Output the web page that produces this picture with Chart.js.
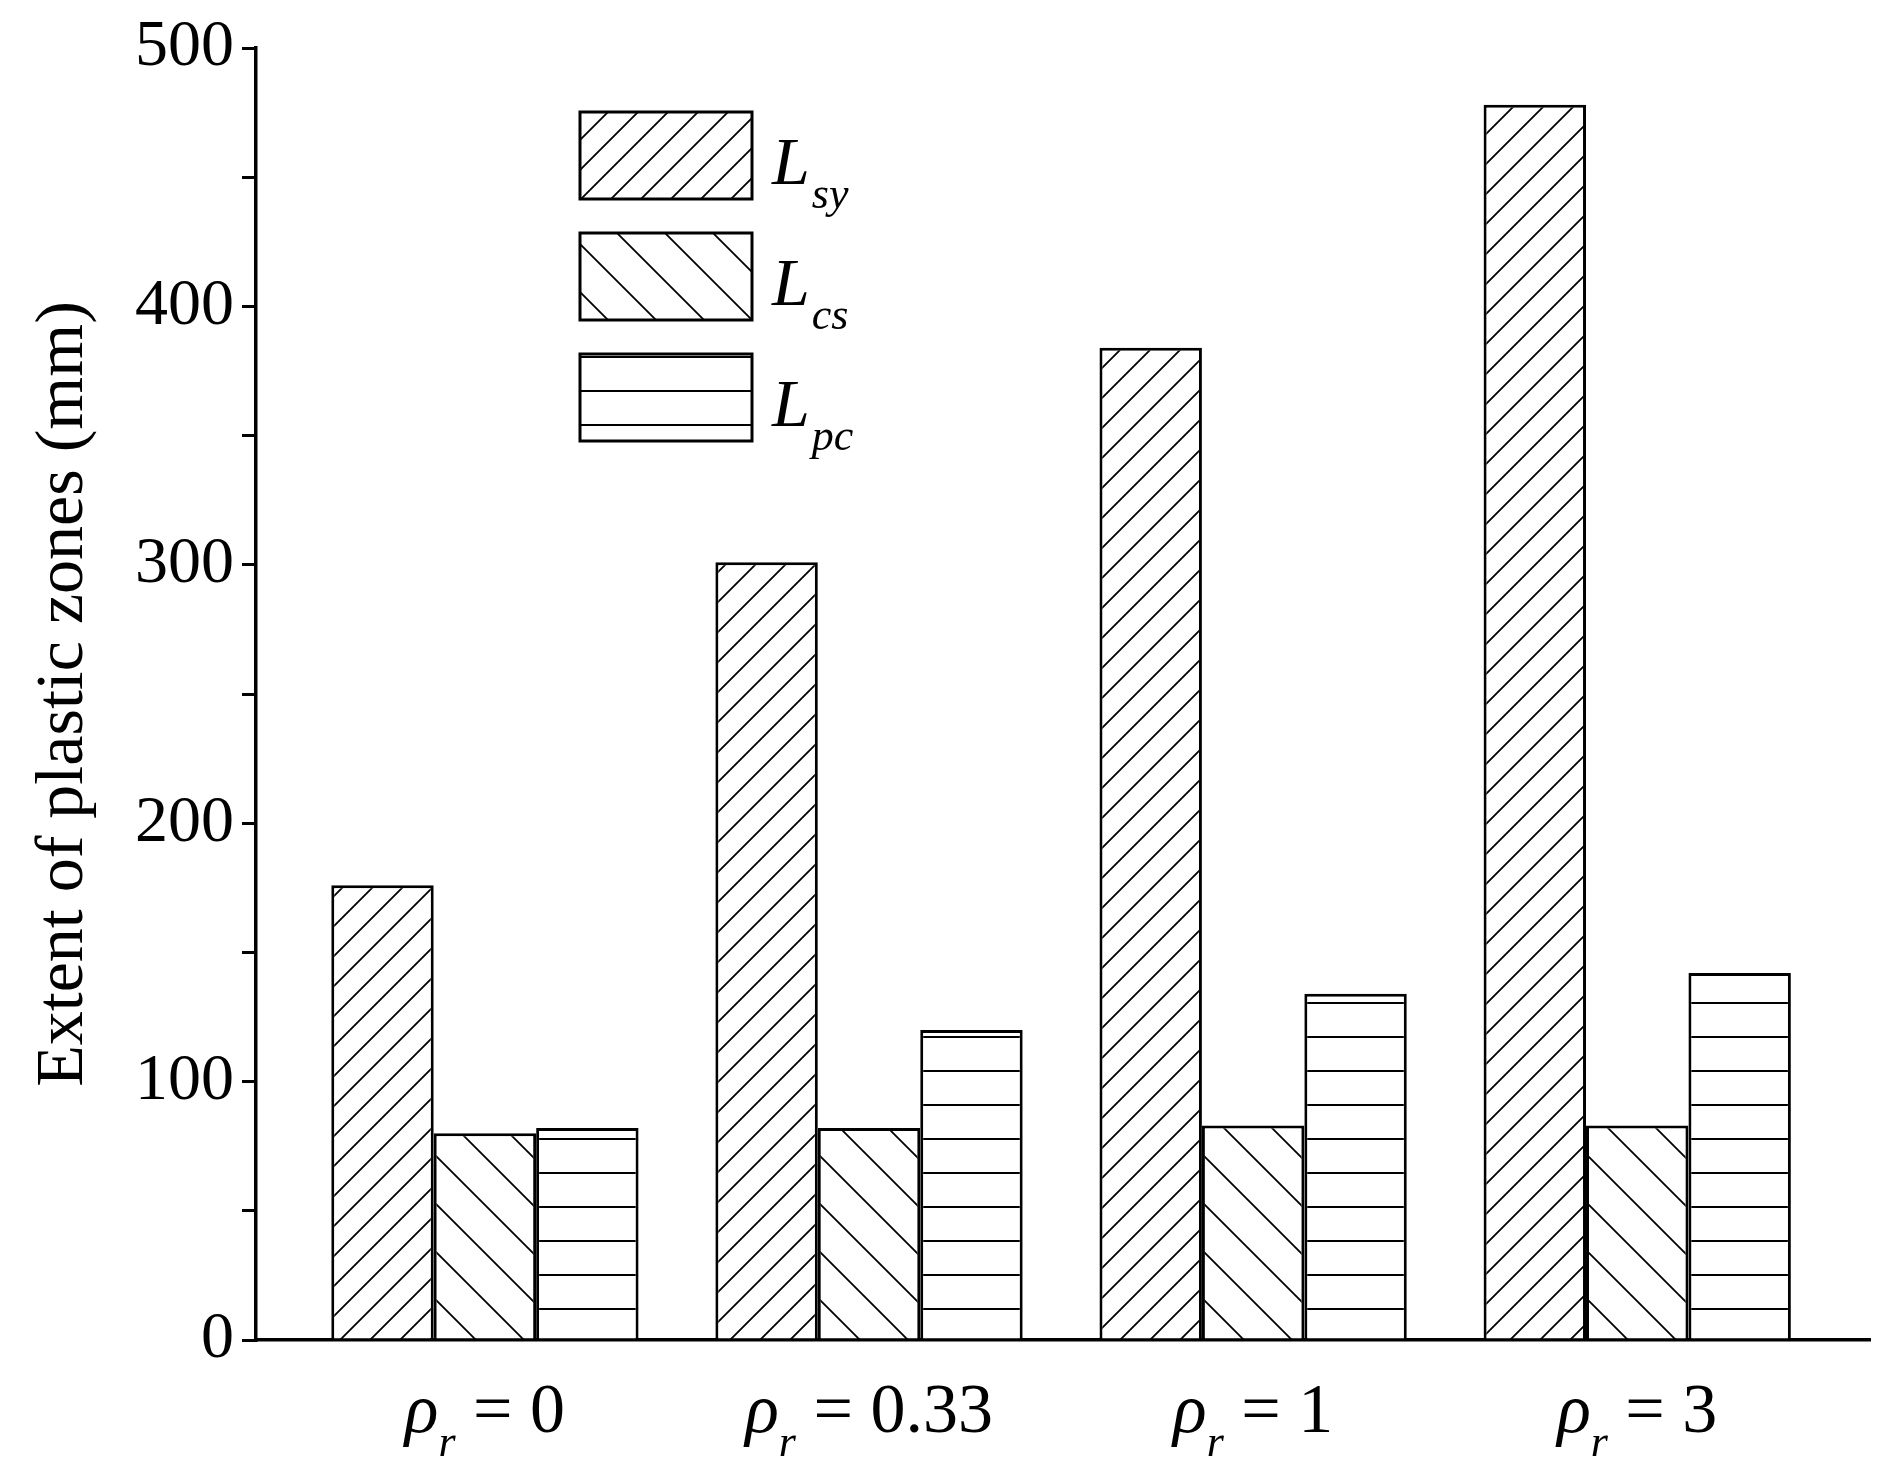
<!DOCTYPE html>
<html><head><meta charset="utf-8">
<script src="https://cdn.jsdelivr.net/npm/chart.js@4/dist/chart.umd.min.js"></script>
<style>body{margin:0;background:#fff}#w{width:1886px;height:1480px}</style>
</head><body><div id="w"><canvas id="c" width="1886" height="1480"></canvas></div>
<script>
const categories = ["0", "0.33", "1", "3"];
const seriesNames = [["L","sy"],["L","cs"],["L","pc"]];
const Lsy = [176, 301, 384, 478];
const Lcs = [80, 82, 83, 83];
const Lpc = [82, 120, 134, 142];
const yTicks = [0, 100, 200, 300, 400, 500];

function hatch(type){
  const s = type==='back'?48:(type==='h'?34:30);
  const c=document.createElement('canvas');c.width=s;c.height=s;
  const g=c.getContext('2d');g.fillStyle='#fff';g.fillRect(0,0,s,s);
  g.strokeStyle='#000';g.lineWidth=1.8;g.beginPath();
  if(type==='fwd'){g.moveTo(-s,2*s);g.lineTo(2*s,-s);g.moveTo(-s,s);g.lineTo(s,-s);g.moveTo(0,2*s);g.lineTo(2*s,0);}
  else if(type==='back'){g.moveTo(-s,-s);g.lineTo(2*s,2*s);g.moveTo(-s,0);g.lineTo(s,2*s);g.moveTo(0,-s);g.lineTo(2*s,s);}
  else {g.moveTo(0,s/2);g.lineTo(s,s/2);}
  g.stroke();
  return g.createPattern(c,'repeat');
}
const cv=document.getElementById('c');const ctx=cv.getContext('2d');
const pats=[hatch('fwd'),hatch('back'),hatch('h')];
const mk=(arr)=>arr.map((v,i)=>({x:i,y:v}));
const SERIF='"Liberation Serif", "DejaVu Serif", serif';

const overlay={id:'ov',afterDraw(ch){
  const g=ch.ctx;const xs=ch.scales.x;
  g.save();g.fillStyle='#000';g.textBaseline='alphabetic';
  categories.forEach((c,i)=>{
    const cx=xs.getPixelForValue(i);
    const p1='ρ',p2='r',p3=' = '+c;
    g.font='italic 70px '+SERIF;const w1=g.measureText(p1).width;
    g.font='italic 44px '+SERIF;const w2=g.measureText(p2).width;
    g.font='70px '+SERIF;const w3=g.measureText(p3).width;
    let x=cx-(w1+w2+w3)/2;const y=1432;
    g.font='italic 70px '+SERIF;g.fillText(p1,x,y);x+=w1;
    g.font='italic 44px '+SERIF;g.fillText(p2,x,y+24);x+=w2;
    g.font='70px '+SERIF;g.fillText(p3,x,y);
  });
  const tops=[112,233,354];
  tops.forEach((t,i)=>{
    g.fillStyle=pats[i];g.fillRect(580,t,172,87);
    g.strokeStyle='#000';g.lineWidth=3;g.strokeRect(580,t,172,87);
    g.fillStyle='#000';
    g.font='italic 68px '+SERIF;g.fillText(seriesNames[i][0],772,t+72);
    const w=g.measureText(seriesNames[i][0]).width;
    g.font='italic 44px '+SERIF;g.fillText(seriesNames[i][1],772+w+2,t+96);
  });
  g.translate(58,694);g.rotate(-Math.PI/2);g.textAlign='center';
  g.font='68px '+SERIF;g.fillText('Extent of plastic zones (mm)',0,24);
  g.restore();
}};

new Chart(cv,{
  type:'bar',
  data:{datasets:[Lsy,Lcs,Lpc].map((d,i)=>({label:seriesNames[i].join(''),data:mk(d),backgroundColor:pats[i],borderColor:'#000',borderWidth:3,categoryPercentage:0.8,barPercentage:1}))},
  options:{responsive:false,animation:false,
    layout:{padding:{top:48,right:16,left:0,bottom:0}},
    plugins:{legend:{display:false},tooltip:{enabled:false}},
    scales:{
      x:{type:'linear',min:-0.596,max:3.606,offset:false,
        afterFit(s){s.height=140;},
        afterBuildTicks(s){s.ticks=[];},
        ticks:{display:false},
        grid:{display:false},border:{color:'#000',width:3.5}},
      y:{min:0,max:500,
        afterFit(s){s.width=256;},
        afterBuildTicks(s){const t=[];for(let v=0;v<=500;v+=50)t.push({value:v,major:v%100===0});s.ticks=t;},
        ticks:{font:{family:'"Liberation Serif"',size:66},color:'#000',padding:8,
          callback:(v)=>yTicks.includes(v)?String(v):''},
        grid:{drawOnChartArea:false,drawTicks:true,tickLength:14,color:'#000',lineWidth:3},
        border:{color:'#000',width:3.5}}
    }},
  plugins:[overlay]
});
</script></body></html>
